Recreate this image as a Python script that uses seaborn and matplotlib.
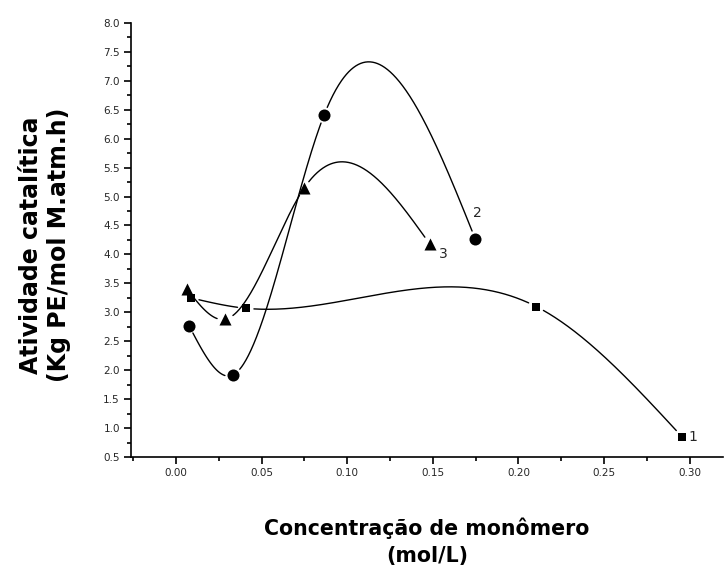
import matplotlib
matplotlib.use("Agg")
import matplotlib.pyplot as plt
import seaborn as sns
import pandas as pd
import numpy as np
from matplotlib.ticker import MultipleLocator, FormatStrFormatter

# Data
x1 = [0.0086, 0.0407, 0.2104, 0.2956]
y1 = [3.25, 3.07, 3.10, 0.85]
x2 = [0.0076, 0.0334, 0.0865, 0.1749]
y2 = [2.77, 1.92, 6.41, 4.26]
x3 = [0.0062, 0.0288, 0.0747, 0.1482]
y3 = [3.41, 2.88, 5.14, 4.18]
series_labels = ["1", "2", "3"]


def natural_spline(xs, ys, n=600):
    x = np.asarray(xs, float)
    y = np.asarray(ys, float)
    k = len(x)
    h = np.diff(x)
    d = np.diff(y) / h
    A = np.zeros((k, k))
    b = np.zeros(k)
    A[0, 0] = 1.0
    A[-1, -1] = 1.0
    for i in range(1, k - 1):
        A[i, i - 1] = h[i - 1]
        A[i, i] = 2 * (h[i - 1] + h[i])
        A[i, i + 1] = h[i]
        b[i] = 6 * (d[i] - d[i - 1])
    M = np.linalg.solve(A, b)
    xx = np.linspace(x[0], x[-1], n)
    idx = np.clip(np.searchsorted(x, xx) - 1, 0, k - 2)
    x0, x1_ = x[idx], x[idx + 1]
    hh = h[idx]
    yy = (M[idx] * (x1_ - xx) ** 3 / (6 * hh) + M[idx + 1] * (xx - x0) ** 3 / (6 * hh)
          + (y[idx] / hh - M[idx] * hh / 6) * (x1_ - xx)
          + (y[idx + 1] / hh - M[idx + 1] * hh / 6) * (xx - x0))
    return xx, yy


sns.set_style("ticks")
plt.rcParams['font.family'] = ['DejaVu Sans']

fig = plt.figure(figsize=(7.24, 5.72), dpi=100)
ax = fig.add_axes([0.181, 0.201, 0.818, 0.759])
ax.set_xlim(-0.0263, 0.3197)
ax.set_ylim(0.5, 8.0)

markers = ["s", "o", "^"]
sizes = [38, 75, 75]
data = [(x1, y1), (x2, y2), (x3, y3)]
gap_px = 8.0
for (xs, ys), m, s in zip(data, markers, sizes):
    xx, yy = natural_spline(xs, ys)
    # leave small gaps around the symbols, as in the original
    pts = ax.transData.transform(np.column_stack([xx, yy]))
    mk = ax.transData.transform(np.column_stack([xs, ys]))
    dist = np.min(np.hypot(pts[:, None, 0] - mk[None, :, 0],
                           pts[:, None, 1] - mk[None, :, 1]), axis=1)
    keep = dist > gap_px
    seg = np.cumsum(np.r_[0, np.abs(np.diff(keep.astype(int)))])
    curve = pd.DataFrame({"x": xx, "y": yy, "seg": seg})[keep]
    sns.lineplot(data=curve, x="x", y="y", units="seg", estimator=None, sort=False,
                 color="black", lw=1.0, ax=ax)
    df = pd.DataFrame({"x": xs, "y": ys})
    sns.scatterplot(data=df, x="x", y="y", marker=m, s=s, color="black",
                    edgecolor="black", linewidth=0, ax=ax, zorder=5)

# series number labels
ax.annotate(series_labels[0], (x1[3], y1[3]), xytext=(4.5, 0), textcoords="offset points",
            ha="left", va="center", fontsize=10)
ax.annotate(series_labels[1], (x2[3], y2[3]), xytext=(-1.5, 19), textcoords="offset points",
            ha="left", va="center", fontsize=10)
ax.annotate(series_labels[2], (x3[3], y3[3]), xytext=(6.5, -7), textcoords="offset points",
            ha="left", va="center", fontsize=10)

ax.xaxis.set_major_locator(MultipleLocator(0.05))
ax.xaxis.set_minor_locator(MultipleLocator(0.025))
ax.yaxis.set_major_locator(MultipleLocator(0.5))
ax.yaxis.set_minor_locator(MultipleLocator(0.25))
ax.xaxis.set_major_formatter(FormatStrFormatter("%.2f"))
ax.yaxis.set_major_formatter(FormatStrFormatter("%.1f"))
ax.tick_params(axis="both", which="major", direction="out", length=5, width=1.2,
               labelsize=7.5, color="black", pad=3)
ax.tick_params(axis="both", which="minor", direction="out", length=3, width=1.2, color="black")
sns.despine(ax=ax)
for sp in ["left", "bottom"]:
    ax.spines[sp].set_linewidth(1.2)
    ax.spines[sp].set_color("black")

ax.set_xlabel("Concentração de monômero\n(mol/L)", fontsize=14.8, fontweight="bold",
              color="black", labelpad=28, linespacing=1.45)
ax.set_ylabel("Atividade catalítica\n(Kg PE/mol M.atm.h)", fontsize=17, fontweight="bold",
              color="black", linespacing=1.2)
ax.yaxis.set_label_coords(-0.101, 0.488)

fig.savefig("out.png", dpi=100)
